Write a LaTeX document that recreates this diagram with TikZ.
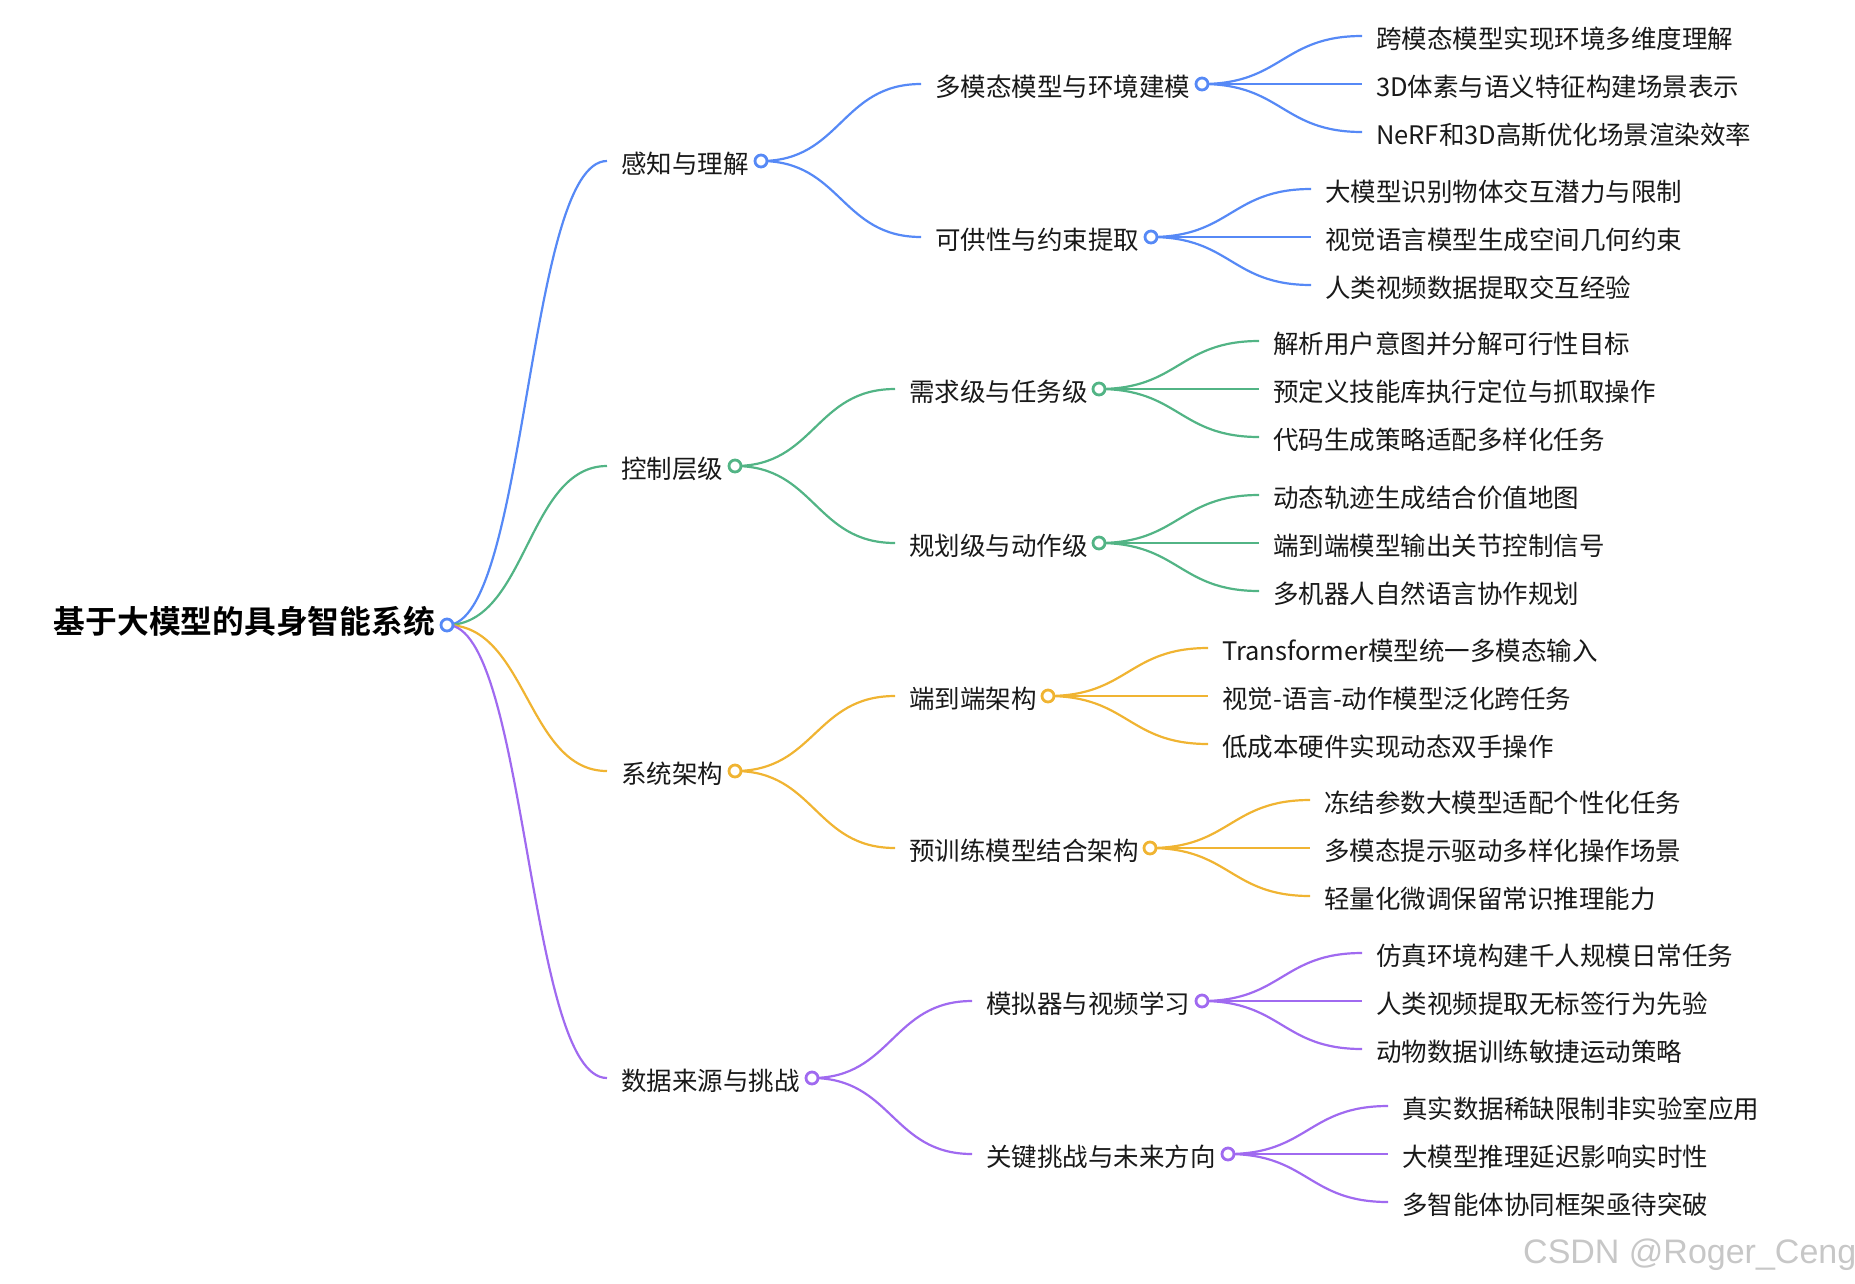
\documentclass[tikz,border=0pt]{standalone}
\usepackage{fontspec}
\setmainfont{Noto Sans CJK SC}[BoldFont={Noto Sans CJK SC Bold}]
\newfontfamily\markfont{Liberation Sans}
\usepackage{xcolor}
\usepackage{tikz}

\definecolor{cblue}{RGB}{86,137,246}
\definecolor{cgreen}{RGB}{82,180,133}
\definecolor{cyellow}{RGB}{240,180,50}
\definecolor{cpurple}{RGB}{160,106,240}

\tikzset{
  txt/.style={anchor=west,inner xsep=14pt,inner ysep=0pt,text=black!90,
    font=\fontsize{25.5}{30}\selectfont,text height=27.3pt,text depth=3.1pt},
  lnk/.style={draw=#1,line width=2.2pt},
  dot/.style={draw=#1,fill=white,line width=2.8pt}
}

\begin{document}
\begin{tikzpicture}[x=1pt,y=-1pt]
\useasboundingbox (0,0) rectangle (1855,1283);

\node[anchor=east,inner sep=0pt,text=black,font=\fontsize{31.75}{36}\selectfont\bfseries,
  text height=27.9pt,text depth=3.8pt] (t-root) at (435,621) {基于大模型的具身智能系统};
\coordinate (c-root) at (447,625);

\node[txt] (t-perc) at (607,161) {感知与理解};
\node[txt] (t-ctrl) at (607,466) {控制层级};
\node[txt] (t-arch) at (607,771) {系统架构};
\node[txt] (t-data) at (607,1078) {数据来源与挑战};
\coordinate (c-perc) at (761,161);
\coordinate (c-ctrl) at (735,466);
\coordinate (c-arch) at (735,771);
\coordinate (c-data) at (812,1078);

\node[txt] (t-mm) at (921,84) {多模态模型与环境建模};
\node[txt] (t-aff) at (921,237) {可供性与约束提取};
\node[txt] (t-task) at (895,389) {需求级与任务级};
\node[txt] (t-plan) at (895,543) {规划级与动作级};
\node[txt] (t-e2e) at (895,696) {端到端架构};
\node[txt] (t-pre) at (895,848) {预训练模型结合架构};
\node[txt] (t-sim) at (972,1001) {模拟器与视频学习};
\node[txt] (t-chal) at (972,1154) {关键挑战与未来方向};
\coordinate (c-mm) at (1202,84);
\coordinate (c-aff) at (1151,237);
\coordinate (c-task) at (1099,389);
\coordinate (c-plan) at (1099,543);
\coordinate (c-e2e) at (1048,696);
\coordinate (c-pre) at (1150,848);
\coordinate (c-sim) at (1202,1001);
\coordinate (c-chal) at (1228,1154);

\node[txt] (l-mm1) at (1362,36) {跨模态模型实现环境多维度理解};
\node[txt] (l-mm2) at (1362,84) {3D体素与语义特征构建场景表示};
\node[txt] (l-mm3) at (1362,132) {NeRF和3D高斯优化场景渲染效率};
\node[txt] (l-aff1) at (1311,189) {大模型识别物体交互潜力与限制};
\node[txt] (l-aff2) at (1311,237) {视觉语言模型生成空间几何约束};
\node[txt] (l-aff3) at (1311,285) {人类视频数据提取交互经验};
\node[txt] (l-task1) at (1259,341) {解析用户意图并分解可行性目标};
\node[txt] (l-task2) at (1259,389) {预定义技能库执行定位与抓取操作};
\node[txt] (l-task3) at (1259,437) {代码生成策略适配多样化任务};
\node[txt] (l-plan1) at (1259,495) {动态轨迹生成结合价值地图};
\node[txt] (l-plan2) at (1259,543) {端到端模型输出关节控制信号};
\node[txt] (l-plan3) at (1259,591) {多机器人自然语言协作规划};
\node[txt] (l-e2e1) at (1208,648) {Transformer模型统一多模态输入};
\node[txt] (l-e2e2) at (1208,696) {视觉-语言-动作模型泛化跨任务};
\node[txt] (l-e2e3) at (1208,744) {低成本硬件实现动态双手操作};
\node[txt] (l-pre1) at (1310,800) {冻结参数大模型适配个性化任务};
\node[txt] (l-pre2) at (1310,848) {多模态提示驱动多样化操作场景};
\node[txt] (l-pre3) at (1310,896) {轻量化微调保留常识推理能力};
\node[txt] (l-sim1) at (1362,953) {仿真环境构建千人规模日常任务};
\node[txt] (l-sim2) at (1362,1001) {人类视频提取无标签行为先验};
\node[txt] (l-sim3) at (1362,1049) {动物数据训练敏捷运动策略};
\node[txt] (l-chal1) at (1388,1106) {真实数据稀缺限制非实验室应用};
\node[txt] (l-chal2) at (1388,1154) {大模型推理延迟影响实时性};
\node[txt] (l-chal3) at (1388,1202) {多智能体协同框架亟待突破};

\draw[lnk=cblue] (c-root) .. controls +(80,0) and +(-80,0) .. (t-perc.west);
\draw[lnk=cgreen] (c-root) .. controls +(80,0) and +(-80,0) .. (t-ctrl.west);
\draw[lnk=cyellow] (c-root) .. controls +(80,0) and +(-80,0) .. (t-arch.west);
\draw[lnk=cpurple] (c-root) .. controls +(80,0) and +(-80,0) .. (t-data.west);

\draw[lnk=cblue] (c-perc) .. controls +(80,0) and +(-80,0) .. (t-mm.west);
\draw[lnk=cblue] (c-perc) .. controls +(80,0) and +(-80,0) .. (t-aff.west);
\draw[lnk=cgreen] (c-ctrl) .. controls +(80,0) and +(-80,0) .. (t-task.west);
\draw[lnk=cgreen] (c-ctrl) .. controls +(80,0) and +(-80,0) .. (t-plan.west);
\draw[lnk=cyellow] (c-arch) .. controls +(80,0) and +(-80,0) .. (t-e2e.west);
\draw[lnk=cyellow] (c-arch) .. controls +(80,0) and +(-80,0) .. (t-pre.west);
\draw[lnk=cpurple] (c-data) .. controls +(80,0) and +(-80,0) .. (t-sim.west);
\draw[lnk=cpurple] (c-data) .. controls +(80,0) and +(-80,0) .. (t-chal.west);

\draw[lnk=cblue] (c-mm) .. controls +(80,0) and +(-80,0) .. (l-mm1.west);
\draw[lnk=cblue] (c-mm) -- (l-mm2.west);
\draw[lnk=cblue] (c-mm) .. controls +(80,0) and +(-80,0) .. (l-mm3.west);
\draw[lnk=cblue] (c-aff) .. controls +(80,0) and +(-80,0) .. (l-aff1.west);
\draw[lnk=cblue] (c-aff) -- (l-aff2.west);
\draw[lnk=cblue] (c-aff) .. controls +(80,0) and +(-80,0) .. (l-aff3.west);
\draw[lnk=cgreen] (c-task) .. controls +(80,0) and +(-80,0) .. (l-task1.west);
\draw[lnk=cgreen] (c-task) -- (l-task2.west);
\draw[lnk=cgreen] (c-task) .. controls +(80,0) and +(-80,0) .. (l-task3.west);
\draw[lnk=cgreen] (c-plan) .. controls +(80,0) and +(-80,0) .. (l-plan1.west);
\draw[lnk=cgreen] (c-plan) -- (l-plan2.west);
\draw[lnk=cgreen] (c-plan) .. controls +(80,0) and +(-80,0) .. (l-plan3.west);
\draw[lnk=cyellow] (c-e2e) .. controls +(80,0) and +(-80,0) .. (l-e2e1.west);
\draw[lnk=cyellow] (c-e2e) -- (l-e2e2.west);
\draw[lnk=cyellow] (c-e2e) .. controls +(80,0) and +(-80,0) .. (l-e2e3.west);
\draw[lnk=cyellow] (c-pre) .. controls +(80,0) and +(-80,0) .. (l-pre1.west);
\draw[lnk=cyellow] (c-pre) -- (l-pre2.west);
\draw[lnk=cyellow] (c-pre) .. controls +(80,0) and +(-80,0) .. (l-pre3.west);
\draw[lnk=cpurple] (c-sim) .. controls +(80,0) and +(-80,0) .. (l-sim1.west);
\draw[lnk=cpurple] (c-sim) -- (l-sim2.west);
\draw[lnk=cpurple] (c-sim) .. controls +(80,0) and +(-80,0) .. (l-sim3.west);
\draw[lnk=cpurple] (c-chal) .. controls +(80,0) and +(-80,0) .. (l-chal1.west);
\draw[lnk=cpurple] (c-chal) -- (l-chal2.west);
\draw[lnk=cpurple] (c-chal) .. controls +(80,0) and +(-80,0) .. (l-chal3.west);

\filldraw[dot=cblue] (c-root) circle (6pt);
\filldraw[dot=cblue] (c-perc) circle (6pt);
\filldraw[dot=cgreen] (c-ctrl) circle (6pt);
\filldraw[dot=cyellow] (c-arch) circle (6pt);
\filldraw[dot=cpurple] (c-data) circle (6pt);
\filldraw[dot=cblue] (c-mm) circle (6pt);
\filldraw[dot=cblue] (c-aff) circle (6pt);
\filldraw[dot=cgreen] (c-task) circle (6pt);
\filldraw[dot=cgreen] (c-plan) circle (6pt);
\filldraw[dot=cyellow] (c-e2e) circle (6pt);
\filldraw[dot=cyellow] (c-pre) circle (6pt);
\filldraw[dot=cpurple] (c-sim) circle (6pt);
\filldraw[dot=cpurple] (c-chal) circle (6pt);

\node[anchor=base west,inner sep=0pt,text=black!22,font=\markfont\fontsize{34}{40}\selectfont]
  (mark) at (1523,1263) {CSDN @Roger\_Ceng};
\end{tikzpicture}
\end{document}
